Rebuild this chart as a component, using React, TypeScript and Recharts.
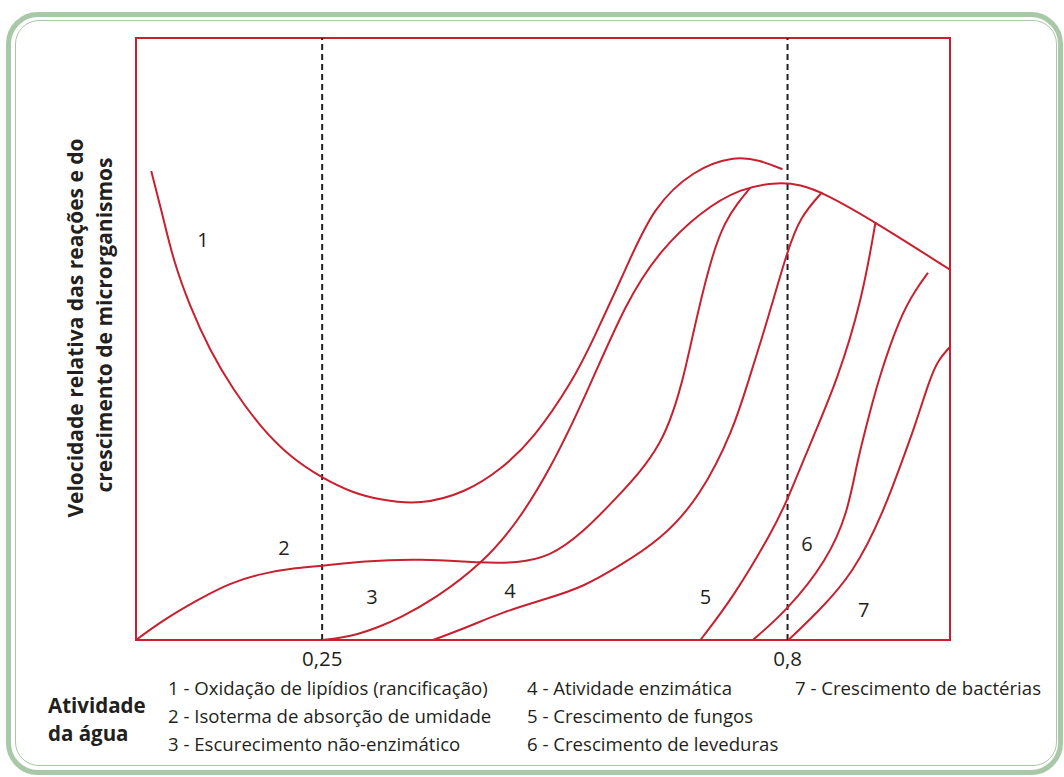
import { LineChart, Line, XAxis, YAxis, ReferenceLine, ReferenceArea, ReferenceDot } from "recharts";

const RED = "#c8202f";
const INK = "#231f20";
const GREEN = "#a9c8a7";
const FONT = "'Open Sans', sans-serif";

// atividade de água (x) x velocidade relativa (y, 0-100)
const awTicks = [0.25, 0.8];

const oxidacaoLipidios = [
  [0.048, 77.9], [0.062, 70.3], [0.074, 63.1], [0.094, 55.3], [0.117, 48.2], [0.145, 41.5],
  [0.177, 35.4], [0.212, 30.4], [0.25, 26.9], [0.287, 24.4], [0.318, 23.3], [0.366, 22.4],
  [0.421, 24.6], [0.46, 28.2], [0.499, 33.2], [0.547, 43.2], [0.57, 49.8], [0.61, 62.0],
  [0.641, 71.9], [0.689, 78.1], [0.736, 80.4], [0.768, 79.7], [0.794, 78.2],
];

const isotermaUmidade = [
  [0.03, 0], [0.062, 3.3], [0.102, 6.6], [0.141, 9.5], [0.18, 11.1], [0.22, 12.0], [0.25, 12.3],
  [0.298, 13.1], [0.366, 13.5], [0.44, 12.8], [0.48, 12.8], [0.519, 13.8], [0.558, 17.8],
  [0.599, 23.8], [0.626, 27.9], [0.65, 32.7], [0.664, 37.4], [0.678, 44.0], [0.693, 54.0],
  [0.712, 64.5], [0.726, 69.4], [0.741, 72.6], [0.756, 75.1],
];

const escurecimento = [
  [0.25, 0], [0.283, 0.5], [0.318, 2.2], [0.342, 3.7], [0.381, 6.6], [0.44, 12.8], [0.48, 19.4],
  [0.519, 28.2], [0.561, 40.4], [0.61, 56.5], [0.65, 64.8], [0.697, 71.1], [0.744, 75.1],
  [0.791, 76.1], [0.815, 75.6], [0.841, 74.4], [0.904, 69.4], [0.992, 61.5],
];

const atividadeEnzimatica = [
  [0.381, 0], [0.425, 2.3], [0.46, 4.5], [0.519, 7.0], [0.558, 8.8], [0.599, 12.1], [0.65, 16.6],
  [0.697, 23.8], [0.736, 34.9], [0.754, 43.2], [0.774, 52.0], [0.8, 64.8], [0.815, 70.3], [0.841, 74.4],
];

const fungos = [
  [0.697, 0], [0.736, 7.1], [0.783, 18.3], [0.8, 23.3], [0.83, 33.7], [0.859, 43.2], [0.888, 56.5], [0.904, 69.4],
];

const leveduras = [
  [0.759, 0], [0.8, 5.0], [0.847, 13.3], [0.871, 21.1], [0.882, 29.4], [0.892, 34.9], [0.907, 43.2],
  [0.933, 53.7], [0.951, 58.1], [0.966, 61.0],
];

const bacterias = [
  [0.801, 0], [0.835, 4.5], [0.878, 11.1], [0.913, 21.1], [0.937, 30.4], [0.949, 34.9], [0.969, 43.7],
  [0.978, 46.5], [0.992, 48.7],
];

const series = [oxidacaoLipidios, isotermaUmidade, escurecimento, atividadeEnzimatica, fungos, leveduras, bacterias];

const legendaCol1 = [
  "1 - Oxidação de lipídios (rancificação)",
  "2 - Isoterma de absorção de umidade",
  "3 - Escurecimento não-enzimático",
];
const legendaCol2 = ["4 - Atividade enzimática", "5 - Crescimento de fungos", "6 - Crescimento de leveduras"];
const legendaCol3 = ["7 - Crescimento de bactérias"];

const toPts = (a: number[][]) => a.map(([x, y]) => ({ x, y }));

function curveLabel(n: string) {
  return { value: n, position: "center" as const, fill: INK, fontSize: 20, fontFamily: FONT };
}

export default function App() {
  return (
    <div style={{ position: "absolute", left: 0, top: 0, width: 1064, height: 777, background: "#fff", fontFamily: FONT }}>
      <div
        style={{
          position: "absolute", left: 6, top: 12, width: 1057, height: 763,
          border: `5px solid ${GREEN}`, borderRadius: 32, boxSizing: "border-box",
        }}
      />
      <div
        style={{
          position: "absolute", left: 15, top: 20, width: 1042, height: 746,
          border: `1.5px solid ${GREEN}`, borderRadius: 24, boxSizing: "border-box",
        }}
      />
      <div style={{ position: "absolute", left: 0, top: 0 }}>
        <LineChart width={1064} height={777} margin={{ top: 38, left: 136, right: 114, bottom: 107 }}>
          <XAxis
            type="number"
            dataKey="x"
            domain={[0.03, 0.992]}
            allowDataOverflow
            ticks={awTicks}
            tickFormatter={(v: number) => String(v).replace(".", ",")}
            axisLine={false}
            tickLine={false}
            tickMargin={5}
            height={30}
            tick={{ fill: INK, fontSize: 20.5, fontFamily: FONT }}
          />
          <YAxis type="number" domain={[0, 100]} hide />
          <ReferenceArea x1={0.03} x2={0.992} y1={0} y2={100} fill="none" stroke={RED} strokeWidth={2} />
          {awTicks.map((t) => (
            <ReferenceLine key={t} x={t} stroke={INK} strokeWidth={2} strokeDasharray="6 4" />
          ))}
          {series.map((s, i) => (
            <Line
              key={i}
              data={toPts(s)}
              dataKey="y"
              type="basis"
              stroke={RED}
              strokeWidth={2}
              dot={false}
              activeDot={false}
              isAnimationActive={false}
            />
          ))}
          <ReferenceDot x={0.109} y={66.4} r={0} fill="none" stroke="none" label={curveLabel("1")} />
          <ReferenceDot x={0.205} y={15.3} r={0} fill="none" stroke="none" label={curveLabel("2")} />
          <ReferenceDot x={0.309} y={7.1} r={0} fill="none" stroke="none" label={curveLabel("3")} />
          <ReferenceDot x={0.472} y={8.1} r={0} fill="none" stroke="none" label={curveLabel("4")} />
          <ReferenceDot x={0.703} y={7.1} r={0} fill="none" stroke="none" label={curveLabel("5")} />
          <ReferenceDot x={0.823} y={15.9} r={0} fill="none" stroke="none" label={curveLabel("6")} />
          <ReferenceDot x={0.89} y={5.0} r={0} fill="none" stroke="none" label={curveLabel("7")} />
        </LineChart>
      </div>
      <svg width={1064} height={777} style={{ position: "absolute", left: 0, top: 0 }}>
        <g fontFamily={FONT} fontWeight={700} fontSize={21} fill={INK} textAnchor="middle">
          <text transform="translate(75,328) rotate(-90)" dominantBaseline="central">
            Velocidade relativa das reações e do
          </text>
          <text transform="translate(104,325) rotate(-90)" dominantBaseline="central">
            crescimento de microrganismos
          </text>
        </g>
        <g fontFamily={FONT} fontWeight={700} fontSize={20.5} fill={INK}>
          <text x={48} y={705} dominantBaseline="central">Atividade</text>
          <text x={48} y={733} dominantBaseline="central">da água</text>
        </g>
        <g fontFamily={FONT} fontSize={18.6} fill={INK}>
          {legendaCol1.map((t, i) => (
            <text key={t} x={168} y={687 + i * 28} dominantBaseline="central">{t}</text>
          ))}
          {legendaCol2.map((t, i) => (
            <text key={t} x={527} y={687 + i * 28} dominantBaseline="central">{t}</text>
          ))}
          {legendaCol3.map((t, i) => (
            <text key={t} x={795} y={687 + i * 28} dominantBaseline="central">{t}</text>
          ))}
        </g>
      </svg>
    </div>
  );
}
